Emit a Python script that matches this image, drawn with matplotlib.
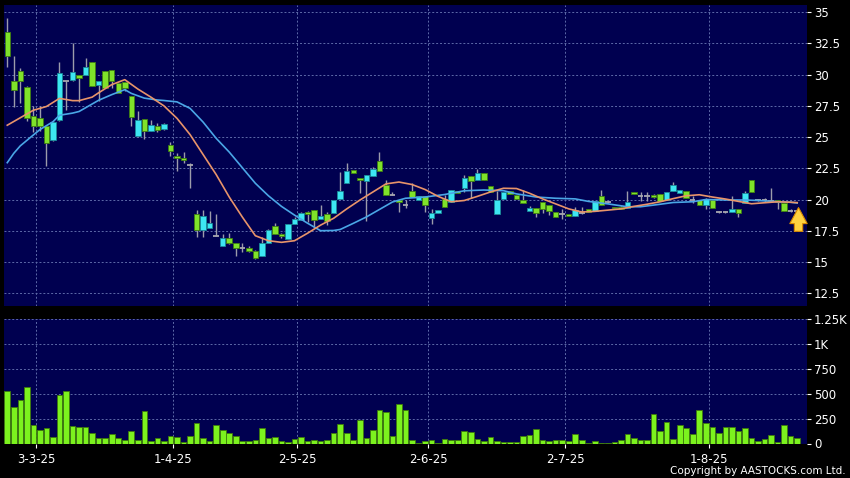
import matplotlib

matplotlib.use("Agg")
import matplotlib.pyplot as plt
import numpy as np
from matplotlib.ticker import FixedLocator, FuncFormatter

# Daily bars, 25 Feb 2025 .. 21 Aug 2025 (trading days, index 0..121)
OPEN = [33.4, 29.5, 30.3, 29.05, 26.65, 26.55, 25.85, 24.8, 26.4, 29.5,
        29.6, 30.0, 30.0, 31.0, 29.2, 30.3, 30.35, 29.3, 29.45, 28.3,
        25.05, 26.45, 25.5, 25.85, 25.65, 24.37, 23.5, 23.3, 22.75, 18.8,
        17.55, 17.7, 17.05, 16.3, 16.95, 16.5, 16.15, 16.15, 15.9, 15.5,
        16.55, 17.9, 17.25, 16.85, 18.0, 18.35, 19.0, 19.15, 18.4, 18.85,
        18.9, 20.05, 21.3, 22.35, 21.7, 21.45, 21.9, 23.1, 21.2, 20.4,
        20.0, 19.55, 20.7, 20.0, 20.25, 18.5, 18.9, 20.05, 19.8, 20.65,
        20.9, 21.85, 21.55, 22.1, 21.05, 18.85, 20.05, 20.65, 20.35, 20.0,
        19.1, 19.35, 19.8, 19.55, 19.0, 18.8, 18.85, 18.7, 18.95, 19.25,
        19.1, 20.3, 19.8, 19.4, 19.4, 19.35, 20.6, 20.3, 20.3, 20.35,
        20.45, 19.95, 20.7, 20.5, 20.7, 19.95, 19.95, 19.55, 19.95, 19.0,
        19.0, 19.0, 19.2, 19.7, 21.55, 19.95, 19.95, 19.85, 19.95, 19.7,
        19.1, 19.05]
HIGH = [34.5, 31.5, 30.5, 29.1, 27.45, 27.5, 26.0, 26.3, 31.0, 29.5,
        32.5, 30.0, 31.3, 31.0, 29.5, 30.3, 30.35, 29.3, 29.45, 28.3,
        27.1, 26.45, 26.4, 26.1, 26.1, 24.63, 23.75, 23.83, 22.9, 19.15,
        19.15, 19.1, 18.85, 17.2, 17.35, 16.5, 16.5, 16.3, 15.95, 17.0,
        17.6, 18.15, 17.3, 18.05, 18.6, 19.0, 19.1, 19.15, 19.55, 19.0,
        19.95, 22.2, 22.95, 22.35, 21.7, 21.95, 22.6, 23.8, 21.6, 20.6,
        20.0, 19.95, 21.35, 20.25, 20.25, 19.2, 19.15, 20.35, 20.8, 20.65,
        21.95, 21.85, 22.45, 22.1, 21.05, 20.7, 20.6, 20.65, 20.35, 20.8,
        19.5, 19.35, 19.8, 19.55, 19.0, 19.25, 18.85, 19.4, 19.4, 19.25,
        19.9, 20.75, 19.9, 19.4, 19.45, 20.7, 20.6, 20.6, 20.6, 20.45,
        20.45, 20.6, 21.4, 20.75, 20.7, 20.3, 19.95, 20.1, 19.95, 19.05,
        19.05, 20.25, 19.2, 20.7, 21.55, 20.05, 20.15, 20.9, 19.95, 19.7,
        19.2, 19.1]
LOW = [30.6, 27.4, 27.7, 26.3, 25.4, 25.5, 22.65, 24.7, 26.3, 27.2,
       29.5, 27.8, 30.0, 29.1, 27.9, 28.9, 28.95, 28.5, 28.7, 25.9,
       25.0, 24.85, 25.5, 25.4, 25.6, 23.51, 22.25, 22.9, 20.95, 17.0,
       17.0, 17.7, 17.05, 16.25, 16.45, 15.5, 15.8, 15.8, 15.25, 15.5,
       16.5, 17.2, 16.95, 16.85, 18.0, 18.35, 18.2, 17.75, 18.4, 17.95,
       18.9, 20.05, 21.3, 22.1, 20.5, 18.3, 21.9, 22.3, 20.35, 20.4,
       19.0, 19.3, 20.2, 20.0, 19.0, 18.05, 18.9, 19.4, 19.8, 20.5,
       20.6, 20.1, 21.55, 21.55, 20.6, 18.85, 20.05, 20.45, 20.05, 19.7,
       19.1, 18.6, 18.9, 18.75, 18.6, 18.45, 18.7, 18.7, 18.8, 19.0,
       19.1, 19.6, 19.7, 19.3, 19.2, 19.35, 20.45, 19.9, 19.9, 20.1,
       19.9, 19.95, 20.7, 20.5, 20.15, 19.7, 19.6, 19.2, 19.35, 18.95,
       18.95, 19.0, 18.6, 19.7, 20.6, 19.85, 19.8, 19.8, 19.2, 19.1,
       19.0, 19.0]
CLOSE = [31.5, 28.8, 29.5, 26.55, 25.85, 25.85, 24.55, 26.2, 30.1, 29.5,
         30.25, 29.75, 30.65, 29.1, 29.5, 28.9, 29.5, 28.55, 28.9, 26.6,
         26.4, 25.5, 25.95, 25.6, 26.05, 23.91, 23.35, 23.15, 22.75, 17.55,
         18.7, 18.1, 17.05, 16.95, 16.5, 16.1, 16.15, 15.9, 15.3, 16.5,
         17.55, 17.25, 17.05, 18.05, 18.45, 18.95, 18.85, 18.35, 18.7, 18.3,
         19.95, 20.7, 22.25, 22.1, 21.55, 21.95, 22.45, 22.3, 20.35, 20.4,
         19.8, 19.55, 20.2, 20.25, 19.55, 18.9, 19.15, 19.4, 20.8, 20.5,
         21.7, 21.45, 22.1, 21.55, 20.6, 20.0, 20.6, 20.45, 20.05, 19.7,
         19.3, 18.95, 19.25, 19.1, 18.6, 18.8, 18.7, 19.15, 18.95, 19.0,
         19.9, 19.6, 19.8, 19.3, 19.25, 19.8, 20.45, 20.3, 20.3, 20.2,
         19.9, 20.6, 21.2, 20.75, 20.15, 19.95, 19.6, 20.05, 19.35, 19.0,
         19.0, 19.2, 18.95, 20.55, 20.6, 19.95, 19.95, 19.85, 19.8, 19.1,
         19.1, 19.05]
VOLUME = [523, 367, 440, 570, 190, 137, 160, 63, 490, 527,
          177, 167, 163, 110, 53, 53, 97, 53, 40, 127,
          37, 323, 23, 60, 27, 77, 63, 13, 73, 210,
          53, 30, 183, 140, 103, 73, 23, 30, 37, 153,
          57, 63, 27, 20, 50, 63, 30, 33, 23, 33,
          103, 193, 110, 40, 237, 57, 140, 340, 320, 80,
          397, 340, 40, 10, 30, 37, 10, 47, 33, 33,
          130, 117, 50, 27, 63, 23, 13, 13, 17, 77,
          83, 150, 33, 30, 40, 40, 23, 97, 33, 2,
          23, 2, 10, 20, 40, 93, 60, 37, 37, 297,
          130, 220, 50, 190, 157, 97, 337, 203, 163, 103,
          167, 170, 127, 160, 57, 30, 47, 87, 20, 183,
          73, 60]

# moving averages (bar index, value)
MA_SHORT_IDX = [0, 3, 4, 6, 8, 10, 11, 13, 14, 16, 18, 20, 22, 24, 26, 28, 30,
                32, 34, 36, 38, 40, 42, 44, 46, 48, 50, 52, 54, 56, 58, 60, 62,
                64, 66, 68, 70, 72, 74, 76, 78, 80, 82, 84, 86, 88, 90, 92, 94,
                96, 98, 100, 102, 104, 106, 108, 110, 112, 114, 116, 118, 120, 121]
MA_SHORT = [25.95, 26.85, 27.15, 27.45, 28.1, 27.92, 27.92, 28.2, 28.55, 29.2,
            29.6, 28.85, 28.2, 27.5, 26.5, 25.2, 23.6, 22.0, 20.2, 18.6, 17.1,
            16.7, 16.57, 16.7, 17.3, 17.95, 18.5, 19.25, 19.95, 20.6, 21.25,
            21.4, 21.2, 20.8, 20.25, 19.82, 19.92, 20.25, 20.6, 20.9, 20.88,
            20.5, 20.05, 19.65, 19.25, 19.0, 19.05, 19.15, 19.25, 19.45, 19.62,
            19.82, 20.07, 20.3, 20.38, 20.2, 20.04, 19.85, 19.66, 19.74, 19.82,
            19.78, 19.75]
MA_LONG_IDX = [0, 1, 2, 4, 5, 7, 8, 10, 11, 13, 14, 16, 18, 19, 21, 23, 24, 26,
               28, 30, 32, 34, 36, 38, 40, 42, 44, 46, 48, 50, 51, 53, 55, 57,
               59, 61, 64, 67, 70, 73, 76, 78, 81, 84, 87, 89, 92, 95, 97, 100,
               102, 105, 107, 110, 113, 115, 118, 120, 121]
MA_LONG = [22.95, 23.7, 24.3, 25.17, 25.6, 26.23, 26.75, 26.92, 27.05, 27.65,
           27.95, 28.4, 28.8, 28.5, 28.12, 27.97, 27.93, 27.82, 27.3, 26.2,
           24.9, 23.8, 22.55, 21.3, 20.3, 19.45, 18.75, 18.1, 17.5, 17.52,
           17.6, 18.09, 18.6, 19.2, 19.8, 20.1, 20.2, 20.4, 20.7, 20.76,
           20.71, 20.45, 20.2, 20.1, 20.05, 19.85, 19.65, 19.42, 19.42, 19.62,
           19.76, 19.82, 20.0, 19.96, 19.96, 19.92, 19.82, 19.78, 19.72]

DATE_IDX = [4, 25, 44, 64, 85, 107]
DATE_LABELS = ["3-3-25", "1-4-25", "2-5-25", "2-6-25", "2-7-25", "1-8-25"]
PRICE_TICKS = [12.5, 15, 17.5, 20, 22.5, 25, 27.5, 30, 32.5, 35]
VOL_TICKS = [0, 250, 500, 750, 1000, 1250]

PANEL = "#000050"
GRID = "#5d6aa8"
UP, UP_EDGE = "#3de6f2", "#1a8a98"
DOWN, DOWN_EDGE = "#7fe22a", "#3f7f12"
DOJI = "#a8a8b0"
WICK = "#9c9cab"


def style_panel(ax):
    ax.set_facecolor(PANEL)
    for s in ax.spines.values():
        s.set_visible(False)
    ax.yaxis.tick_right()
    ax.tick_params(axis="y", colors="white", labelsize=8.5, length=3, pad=2,
                   width=0.8)
    ax.set_xlim(-0.5, 122.5)
    ax.xaxis.set_major_locator(FixedLocator([i + 0.44 for i in DATE_IDX]))
    ax.grid(True, color=GRID, linestyle=(0, (2, 2)), linewidth=0.7)
    ax.set_axisbelow(True)


def draw_candles(ax):
    x = np.arange(len(OPEN))
    ax.vlines(x, LOW, HIGH, color=WICK, linewidth=1.0, zorder=2)
    for i, (o, c) in enumerate(zip(OPEN, CLOSE)):
        if abs(c - o) < 1e-9:
            ax.hlines(o, i - 0.42, i + 0.42, color=DOJI, linewidth=1.3, zorder=3)
            continue
        up = c > o
        ax.bar(i, abs(c - o), bottom=min(o, c), width=0.84,
               color=UP if up else DOWN, edgecolor=UP_EDGE if up else DOWN_EDGE,
               linewidth=0.6, zorder=3)


fig = plt.figure(figsize=(8.5, 4.78), dpi=100, facecolor="black")
ax = fig.add_axes([4 / 850, 1 - 306 / 478, 803 / 850, 301 / 478])
vax = fig.add_axes([4 / 850, 1 - 443.5 / 478, 803 / 850, 124.5 / 478])

style_panel(ax)
draw_candles(ax)
ax.plot(MA_LONG_IDX, MA_LONG, color="#4aa6e6", linewidth=1.2, zorder=4)
ax.plot(MA_SHORT_IDX, MA_SHORT, color="#e8946a", linewidth=1.2, zorder=4)
ax.set_ylim(11.47, 35.58)
ax.yaxis.set_major_locator(FixedLocator(PRICE_TICKS))
ax.yaxis.set_major_formatter(FuncFormatter(lambda v, _: f"{v:g}"))
ax.tick_params(axis="x", length=0, labelbottom=False)

# latest-bar marker
ax.annotate("", xy=(121.2, 19.35), xytext=(121.2, 17.45),
            arrowprops=dict(arrowstyle="simple,head_width=1.25,head_length=1.15,"
                                       "tail_width=0.6",
                            fc="#ffd23f", ec="#d98a00", lw=0.8,
                            shrinkA=0, shrinkB=0), zorder=6)

style_panel(vax)
vax.bar(np.arange(len(VOLUME)), VOLUME, width=0.86, color="#7cf21e",
        edgecolor="#3e7a0c", linewidth=0.6, zorder=3)
vax.set_ylim(0, 1250)
vax.yaxis.set_major_locator(FixedLocator(VOL_TICKS))
vax.yaxis.set_major_formatter(FuncFormatter(
    lambda v, _: f"{v / 1000:g}K" if v >= 1000 else f"{v:g}"))
vax.set_xticklabels(DATE_LABELS)
vax.tick_params(axis="x", colors="white", labelsize=8.5, length=3, pad=4,
                width=0.8)

fig.text(846 / 850, 1 - 471 / 478, "Copyright by AASTOCKS.com Ltd.",
         color="white", fontsize=7.5, ha="right", va="center")

fig.savefig("out.png", dpi=100, facecolor="black")
